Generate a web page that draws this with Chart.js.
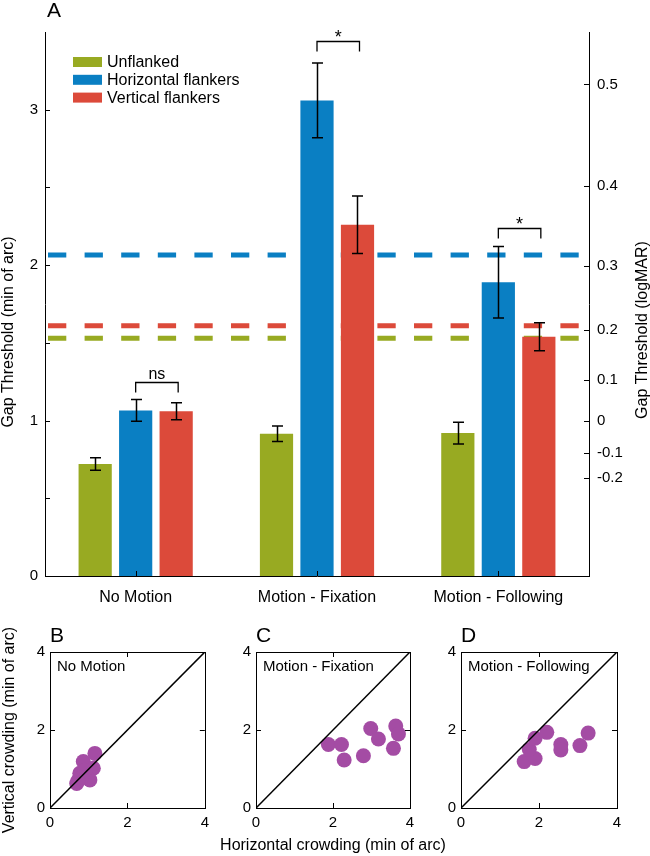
<!DOCTYPE html>
<html>
<head>
<meta charset="utf-8">
<script src="https://cdn.jsdelivr.net/npm/chart.js@4.4.1/dist/chart.umd.min.js"></script>
<style>
  html, body { margin: 0; padding: 0; background: #fff; }
  #wrap { position: relative; width: 650px; height: 856px; }
  canvas { position: absolute; }
</style>
</head>
<body>
<div id="wrap">
  <canvas id="main" width="650" height="615" style="left:0;top:0"></canvas>
  <canvas id="panelB" width="215" height="241" style="left:0;top:615px"></canvas>
  <canvas id="panelC" width="280" height="241" style="left:185px;top:615px"></canvas>
  <canvas id="panelD" width="220" height="241" style="left:430px;top:615px"></canvas>
</div>
<script>
// ---- data ----
const categories = ['No Motion', 'Motion - Fixation', 'Motion - Following'];
const seriesNames = ['Unflanked', 'Horizontal flankers', 'Vertical flankers'];

const unflanked = [0.72, 0.915, 0.92];
const unflankedErr = [0.04, 0.05, 0.07];
const horizontal = [1.065, 3.06, 1.89];
const horizontalErr = [0.07, 0.24, 0.23];
const vertical = [1.06, 2.26, 1.54];
const verticalErr = [0.055, 0.185, 0.09];

// dashed reference levels, same order as the series
const baselines = [1.53, 2.065, 1.61];

const gapTicks = [0, 0.5, 1, 1.5, 2, 2.5, 3];
const logmarTicks = [-0.2, -0.1, 0, 0.1, 0.2, 0.3, 0.4, 0.5];

// significance: category, label, level (min of arc) - horizontal vs vertical flankers
const sigCats = [0, 1, 2];
const sigLabels = ['ns', '*', '*'];
const sigLevels = [1.25, 3.445, 2.24];

// individual observers (min of arc)
const noMotionH = [1.16, 0.86, 1.12, 0.77, 1.03, 0.69, 0.90, 0.82, 0.72];
const noMotionV = [1.40, 1.19, 1.02, 0.89, 0.72, 0.63, 0.97, 0.78, 0.70];
const fixationH = [1.88, 2.22, 2.29, 2.79, 2.98, 3.18, 3.57, 3.63, 3.70];
const fixationV = [1.63, 1.63, 1.23, 1.34, 2.04, 1.77, 1.53, 2.10, 1.90];
const followingH = [1.62, 1.90, 1.75, 1.90, 2.20, 2.56, 2.56, 3.05, 3.26];
const followingV = [1.19, 1.27, 1.50, 1.79, 1.94, 1.63, 1.49, 1.60, 1.92];
const crowdTicks = [0, 2, 4];
const identity = [0, 4];

// ---- style ----
const colors = ['#98aa22', '#0a7fc3', '#dc4a3a'];
const purple = '#a44ca4';
const FONT = "'Liberation Sans', Arial, sans-serif";
Chart.defaults.font.family = FONT;
Chart.defaults.color = '#000';

const px = v => Math.round(v) + 0.5;

// ticks that point into the plot
const inwardTicks = {
  id: 'inwardTicks',
  afterDraw(chart, args, opts) {
    const ctx = chart.ctx, a = chart.chartArea, len = opts.len || 5;
    ctx.save();
    ctx.strokeStyle = '#000';
    ctx.lineWidth = 1;
    ctx.beginPath();
    Object.values(chart.scales).forEach(s => {
      s.ticks.forEach((t, i) => {
        const p = px(s.getPixelForTick(i));
        if (s.axis === 'x') {
          ctx.moveTo(p, a.bottom); ctx.lineTo(p, a.bottom - len);
          if (opts.box) { ctx.moveTo(p, a.top); ctx.lineTo(p, a.top + len); }
        } else if (s.position === 'left') {
          ctx.moveTo(a.left, p); ctx.lineTo(a.left + len, p);
          if (opts.box) { ctx.moveTo(a.right, p); ctx.lineTo(a.right - len, p); }
        } else {
          ctx.moveTo(a.right, p); ctx.lineTo(a.right - len, p);
        }
      });
    });
    ctx.stroke();
    if (opts.box) {
      ctx.strokeRect(px(a.left), px(a.top), Math.round(a.right - a.left), Math.round(a.bottom - a.top));
    }
    ctx.restore();
  }
};

// free texts (letters, inner labels, titles)
const texts = {
  id: 'texts',
  afterDraw(chart, args, opts) {
    const ctx = chart.ctx, a = chart.chartArea;
    (opts.items || []).forEach(it => {
      ctx.save();
      ctx.font = it.font;
      ctx.fillStyle = '#000';
      ctx.textAlign = it.align || 'left';
      ctx.textBaseline = it.baseline || 'alphabetic';
      const x = it.rel ? a.left + it.x : it.x;
      const y = it.rel ? a.top + it.y : it.y;
      ctx.translate(x, y);
      if (it.rotate) ctx.rotate(it.rotate);
      ctx.fillText(it.text, 0, 0);
      ctx.restore();
    });
  }
};

// dashed levels behind the bars
const dashedLevels = {
  id: 'dashedLevels',
  beforeDatasetsDraw(chart) {
    const ctx = chart.ctx, a = chart.chartArea, y = chart.scales.y;
    ctx.save();
    ctx.lineWidth = 5;
    ctx.setLineDash([18.3, 18.3]);
    baselines.forEach((v, i) => {
      const yy = y.getPixelForValue(v);
      ctx.strokeStyle = colors[i];
      ctx.beginPath();
      ctx.moveTo(a.left + 3, yy);
      ctx.lineTo(a.right - 9, yy);
      ctx.stroke();
    });
    ctx.restore();
  }
};

// error bars, significance brackets, legend
const barExtras = {
  id: 'barExtras',
  afterDatasetsDraw(chart) {
    const ctx = chart.ctx, y = chart.scales.y, a = chart.chartArea;
    ctx.save();
    ctx.strokeStyle = '#000';
    ctx.lineWidth = 1.5;
    chart.data.datasets.forEach((ds, di) => {
      const meta = chart.getDatasetMeta(di);
      meta.data.forEach((bar, j) => {
        const v = ds.data[j], e = ds.errors[j];
        const x = Math.round(bar.x) + 0.5;
        const yt = y.getPixelForValue(v + e), yb = y.getPixelForValue(v - e);
        ctx.beginPath();
        ctx.moveTo(x, yt); ctx.lineTo(x, yb);
        ctx.moveTo(x - 5.5, yt); ctx.lineTo(x + 5.5, yt);
        ctx.moveTo(x - 5.5, yb); ctx.lineTo(x + 5.5, yb);
        ctx.stroke();
      });
    });
    // brackets between horizontal and vertical flankers
    ctx.lineWidth = 1.3;
    sigCats.forEach((c, k) => {
      const x1 = chart.getDatasetMeta(1).data[c].x;
      const x2 = chart.getDatasetMeta(2).data[c].x + 2;
      const yy = Math.round(y.getPixelForValue(sigLevels[k])) + 0.5;
      ctx.beginPath();
      ctx.moveTo(x1, yy + 10); ctx.lineTo(x1, yy); ctx.lineTo(x2, yy); ctx.lineTo(x2, yy + 10);
      ctx.stroke();
      ctx.fillStyle = '#000';
      ctx.textAlign = 'center';
      ctx.textBaseline = 'alphabetic';
      if (sigLabels[k] === '*') {
        ctx.font = '18px ' + FONT;
        ctx.fillText('*', (x1 + x2) / 2, yy + 1);
      } else {
        ctx.font = '16px ' + FONT;
        ctx.fillText(sigLabels[k], (x1 + x2) / 2, yy - 4);
      }
    });
    // legend
    ctx.font = '16px ' + FONT;
    ctx.textAlign = 'left';
    ctx.textBaseline = 'middle';
    seriesNames.forEach((n, i) => {
      const cy = a.top + 30 + i * 17.8;
      ctx.fillStyle = colors[i];
      ctx.fillRect(a.left + 28, cy - 5, 29, 10);
      ctx.fillStyle = '#000';
      ctx.fillText(n, a.left + 62, cy + 1);
    });
    ctx.restore();
  }
};

const seriesValues = [unflanked, horizontal, vertical];
const seriesErrors = [unflankedErr, horizontalErr, verticalErr];

new Chart(document.getElementById('main'), {
  type: 'bar',
  data: {
    labels: categories,
    datasets: seriesNames.map((n, i) => ({
      label: n,
      data: seriesValues[i],
      errors: seriesErrors[i],
      backgroundColor: colors[i],
      borderWidth: 0,
      categoryPercentage: 0.67,
      barPercentage: 0.82
    }))
  },
  options: {
    responsive: false,
    devicePixelRatio: 1,
    animation: false,
    layout: { padding: { top: 32, left: 0, right: 0, bottom: 0 } },
    plugins: {
      legend: { display: false },
      tooltip: { enabled: false },
      inwardTicks: { len: 5 },
      texts: {
        items: [
          { text: 'A', x: 47, y: 17, font: '21px ' + FONT },
          { text: 'Gap Threshold (min of arc)', x: 13, y: 332, font: '16px ' + FONT,
            align: 'center', rotate: -Math.PI / 2 },
          { text: 'Gap Threshold (logMAR)', x: 647, y: 330, font: '16px ' + FONT,
            align: 'center', rotate: -Math.PI / 2 }
        ]
      }
    },
    scales: {
      x: {
        grid: { display: false, drawTicks: false, tickLength: 0 },
        border: { display: true, color: '#000', width: 1 },
        ticks: { font: { size: 16 }, padding: 12, autoSkip: false, maxRotation: 0 },
        afterFit: s => { s.height = 39; }
      },
      y: {
        position: 'left',
        min: 0, max: 3.5,
        grid: { display: false, drawTicks: false, tickLength: 0 },
        border: { display: true, color: '#000', width: 1 },
        afterBuildTicks: s => { s.ticks = gapTicks.map(v => ({ value: v })); },
        ticks: { font: { size: 15 }, padding: 7,
          callback: v => Number.isInteger(v) ? String(v) : '' },
        afterFit: s => { s.width = 45; }
      },
      y2: {
        position: 'right',
        min: 0, max: 3.5,
        grid: { display: false, drawTicks: false, tickLength: 0 },
        border: { display: true, color: '#000', width: 1 },
        afterBuildTicks: s => { s.ticks = logmarTicks.map(l => ({ value: Math.pow(10, l) })); },
        ticks: { font: { size: 15 }, padding: 8,
          callback: v => { const l = Math.round(Math.log10(v) * 10) / 10; return l === 0 ? '0' : String(l); } },
        afterFit: s => { s.width = 61; }
      }
    }
  },
  plugins: [dashedLevels, barExtras, inwardTicks, texts]
});

function scatterPanel(id, hs, vs, letter, label, opt) {
  const items = [
    { text: letter, x: 0, y: -10, rel: true, font: '21px ' + FONT },
    { text: label, x: 7, y: 15, rel: true, font: '15px ' + FONT, baseline: 'middle' }
  ];
  if (opt.xTitle) {
    items.push({ text: opt.xTitle, x: 77, y: 194, rel: true, font: '16px ' + FONT,
      align: 'center', baseline: 'middle' });
  }
  new Chart(document.getElementById(id), {
    type: 'scatter',
    data: {
      datasets: [
        {
          type: 'line',
          data: identity.map(v => ({ x: v, y: v })),
          borderColor: '#000',
          borderWidth: 1.5,
          pointRadius: 0,
          order: 0
        },
        {
          data: hs.map((h, i) => ({ x: h, y: vs[i] })),
          backgroundColor: purple,
          borderWidth: 0,
          pointRadius: 7.5,
          order: 1
        }
      ]
    },
    options: {
      responsive: false,
      devicePixelRatio: 1,
      animation: false,
      layout: { padding: { top: 37, right: opt.right, left: 0, bottom: 0 } },
      plugins: {
        legend: { display: false },
        tooltip: { enabled: false },
        inwardTicks: { len: 5, box: true },
        texts: { items: items }
      },
      scales: {
        x: {
          type: 'linear', min: 0, max: 4,
          grid: { display: false, drawTicks: false, tickLength: 0 },
          border: { display: false },
          afterBuildTicks: s => { s.ticks = crowdTicks.map(v => ({ value: v })); },
          ticks: { font: { size: 15 }, padding: 6 },
          afterFit: s => { s.height = 48; }
        },
        y: {
          type: 'linear', min: 0, max: 4,
          grid: { display: false, drawTicks: false, tickLength: 0 },
          border: { display: false },
          afterBuildTicks: s => { s.ticks = crowdTicks.map(v => ({ value: v })); },
          ticks: { font: { size: 15 }, padding: 5 },
          title: { display: !!opt.yTitle, text: opt.yTitle || '', font: { size: 16 }, padding: 0 },
          afterFit: s => { s.width = opt.left; }
        }
      }
    },
    plugins: [inwardTicks, texts]
  });
}

scatterPanel('panelB', noMotionH, noMotionV, 'B', 'No Motion',
  { left: 50, right: 10, yTitle: 'Vertical crowding (min of arc)' });
scatterPanel('panelC', fixationH, fixationV, 'C', 'Motion - Fixation',
  { left: 71, right: 55, xTitle: 'Horizontal crowding (min of arc)' });
scatterPanel('panelD', followingH, followingV, 'D', 'Motion - Following',
  { left: 31, right: 33 });
</script>
</body>
</html>
